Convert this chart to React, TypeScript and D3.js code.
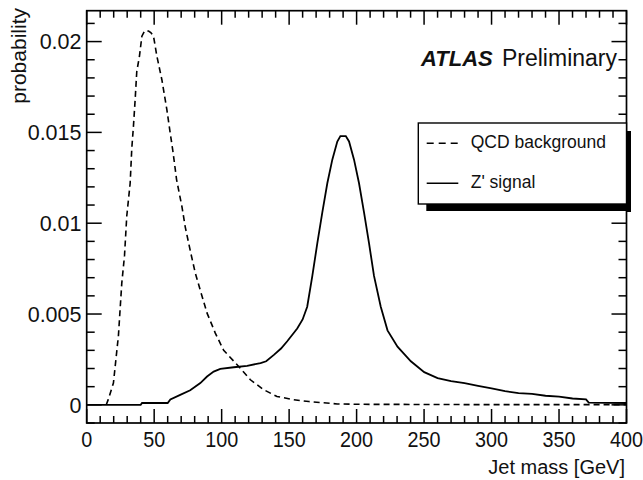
import React from "react";
import * as d3 from "d3";

const qcdMass = [14.5, 16, 19.8, 23.5, 26, 28, 29.7, 32.2, 33.4, 34.6, 35.9, 37.1, 39.1, 40.9, 43, 45.8, 47.5, 49.5, 52, 55.7, 59.4, 61.9, 64, 66.6, 70.6, 73, 76.7, 80.5, 84.2, 89.2, 95.3, 101.5, 109, 114, 121.3, 131.2, 141, 153.5, 164.6, 185.7, 200, 250, 300, 400];
const qcdProb = [0, 0.0003, 0.0012, 0.0038, 0.0067, 0.0082, 0.0104, 0.0122, 0.0141, 0.0153, 0.0168, 0.01835, 0.0192, 0.0203, 0.0206, 0.02058, 0.0205, 0.0203, 0.0192, 0.0179, 0.01625, 0.01496, 0.0139, 0.0124, 0.0109, 0.0098, 0.0085, 0.00725, 0.0063, 0.00505, 0.00395, 0.003, 0.0024, 0.002, 0.00138, 0.00083, 0.00046, 0.00028, 0.00018, 0.00005, 0.00003, 0.00002, 0.00001, 0.00001];

const zMass = [0, 40, 41, 60, 62, 69.3, 76.7, 84.2, 89.2, 94.1, 99, 109, 118.9, 128.8, 133, 138.7, 144, 148.6, 156, 160, 163.4, 167.2, 170.9, 174.6, 178.3, 182, 185.7, 188, 190.2, 192, 194.4, 198.1, 201.8, 205.5, 209.2, 212.9, 217.9, 222.9, 230.3, 240.2, 250.1, 260, 270, 280, 290, 300, 310, 320, 330, 340, 350, 360, 370, 372, 400];
const zProb = [0, 0, 0.0001, 0.0001, 0.0003, 0.00055, 0.0008, 0.0012, 0.00156, 0.00183, 0.00198, 0.00207, 0.00215, 0.0023, 0.0024, 0.00275, 0.0031, 0.0035, 0.0042, 0.0047, 0.0054, 0.0071, 0.0089, 0.0106, 0.0122, 0.0135, 0.0145, 0.0148, 0.0148, 0.0148, 0.0145, 0.0135, 0.0122, 0.0106, 0.0089, 0.0071, 0.0054, 0.0041, 0.0032, 0.0024, 0.0018, 0.00147, 0.0013, 0.0012, 0.00105, 0.0009, 0.00075, 0.00065, 0.0006, 0.0005, 0.00045, 0.00035, 0.0003, 0.00012, 0.0001];

const xMajorTicks = [0, 50, 100, 150, 200, 250, 300, 350, 400];
const yMajorTicks = [0, 0.005, 0.01, 0.015, 0.02];
const yTickLabels = ["0", "0.005", "0.01", "0.015", "0.02"];
const legendLabels = ["QCD background", "Z' signal"];

const FONT = "'Liberation Sans', Arial, Helvetica, sans-serif";

export default function App() {
  const W = 643, H = 480;
  const L = 86.7, R = 626.5, T = 10.7, B = 423;
  const x = d3.scaleLinear().domain([0, 400]).range([L, R]);
  const y = d3.scaleLinear().domain([-0.001, 0.0217]).range([B, T]);

  const line = d3.line<[number, number]>().x(d => x(d[0])).y(d => y(d[1])).curve(d3.curveLinear);
  const qcdPath = line(qcdMass.map((m, i) => [m, qcdProb[i]]) as [number, number][]) || "";
  const zPath = line(zMass.map((m, i) => [m, zProb[i]]) as [number, number][]) || "";

  const xMinor = d3.range(0, 401, 10).filter(v => v % 50 !== 0);
  const yMinor = d3.range(-1, 22).map(v => v / 1000).filter(v => Math.abs(v * 1000 % 5) > 1e-6);

  const lgX = 418.3, lgY = 123, lgW = R - 418.3, lgH = 81;

  return (
    <svg width={W} height={H} style={{ position: "absolute", left: 0, top: 0, background: "#fff" }}>
      <rect x={0} y={0} width={W} height={H} fill="#fff" />
      {/* curves */}
      <path d={qcdPath} fill="none" stroke="#000" strokeWidth={1.6} strokeDasharray="6,4" />
      <path d={zPath} fill="none" stroke="#000" strokeWidth={1.8} />
      {/* frame */}
      <rect x={L} y={T} width={R - L} height={B - T} fill="none" stroke="#000" strokeWidth={1.7} />
      {/* x ticks */}
      {xMajorTicks.map(v => (
        <g key={"xM" + v}>
          <line x1={x(v)} x2={x(v)} y1={B} y2={B - 14} stroke="#000" strokeWidth={1.5} />
          <line x1={x(v)} x2={x(v)} y1={T} y2={T + 14} stroke="#000" strokeWidth={1.5} />
          <text transform={`translate(${x(v)},446.7) scale(0.9,1)`} textAnchor="middle" fontFamily={FONT} fontSize={22} fill="#111">{v}</text>
        </g>
      ))}
      {xMinor.map(v => (
        <g key={"xm" + v}>
          <line x1={x(v)} x2={x(v)} y1={B} y2={B - 7} stroke="#000" strokeWidth={1.5} />
          <line x1={x(v)} x2={x(v)} y1={T} y2={T + 7} stroke="#000" strokeWidth={1.5} />
        </g>
      ))}
      {/* y ticks */}
      {yMajorTicks.map((v, i) => (
        <g key={"yM" + v}>
          <line x1={L} x2={L + 15} y1={y(v)} y2={y(v)} stroke="#000" strokeWidth={1.5} />
          <line x1={R} x2={R - 15} y1={y(v)} y2={y(v)} stroke="#000" strokeWidth={1.5} />
          <text x={81.5} y={y(v) + 7.7} textAnchor="end" fontFamily={FONT} fontSize={21.5} fill="#111">{yTickLabels[i]}</text>
        </g>
      ))}
      {yMinor.map(v => (
        <g key={"ym" + v}>
          <line x1={L} x2={L + 8} y1={y(v)} y2={y(v)} stroke="#000" strokeWidth={1.5} />
          <line x1={R} x2={R - 8} y1={y(v)} y2={y(v)} stroke="#000" strokeWidth={1.5} />
        </g>
      ))}
      {/* axis titles */}
      <text x={625} y={474} textAnchor="end" fontFamily={FONT} fontSize={20} fill="#111">Jet mass [GeV]</text>
      <text transform="translate(26,8) rotate(-90)" textAnchor="end" fontFamily={FONT} fontSize={21} fill="#111">probability</text>
      {/* ATLAS label */}
      <text x={421} y={65.7} fontFamily={FONT} fontSize={22} fontWeight="bold" fontStyle="italic" fill="#111">ATLAS</text>
      <text x={617} y={65.7} textAnchor="end" fontFamily={FONT} fontSize={23} fill="#111">Preliminary</text>
      {/* legend */}
      <rect x={lgX + 8} y={lgY + lgH} width={lgW - 3.5} height={7} fill="#000" />
      <rect x={lgX + lgW} y={lgY + 8} width={4.5} height={lgH} fill="#000" />
      <rect x={lgX} y={lgY} width={lgW} height={lgH} fill="#fff" stroke="#000" strokeWidth={1.4} />
      <line x1={426.7} x2={458.3} y1={143.3} y2={143.3} stroke="#000" strokeWidth={1.6} strokeDasharray="7,5" />
      <text x={470.7} y={148.3} fontFamily={FONT} fontSize={17.5} fill="#111">{legendLabels[0]}</text>
      <line x1={426.7} x2={458.3} y1={183.3} y2={183.3} stroke="#000" strokeWidth={1.6} />
      <text x={470.7} y={188.3} fontFamily={FONT} fontSize={17.5} fill="#111">{legendLabels[1]}</text>
    </svg>
  );
}
